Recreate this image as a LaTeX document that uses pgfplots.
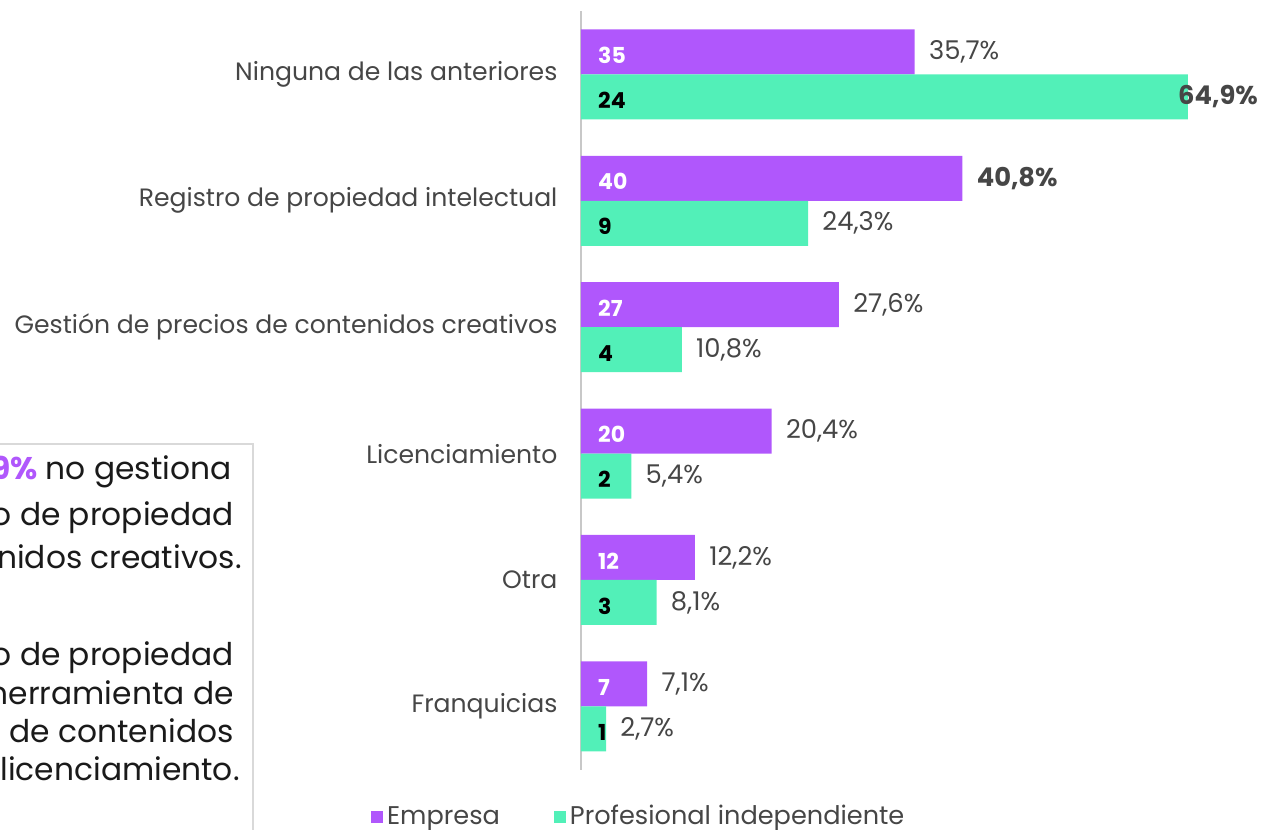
\documentclass[border=0pt]{standalone}
\usepackage{fontspec}
\setmainfont{Poppins}
\usepackage{pgfplots}
\usepackage{pgfplotstable}
\pgfplotsset{compat=1.18}
\definecolor{emp}{RGB}{176,87,252}
\definecolor{pro}{RGB}{82,240,184}
\definecolor{txt}{RGB}{70,70,70}
\definecolor{boxc}{RGB}{217,217,217}
\definecolor{axc}{RGB}{200,200,200}

\pgfplotstableread{
y  p1   c1 l1                 p2   c2 l2                 d2
5  35.7 35 35,7\%             64.9 24 \textbf{64,9\%}    -5
4  40.8 40 \textbf{40,8\%}    24.3 9  24,3\%             7
3  27.6 27 27,6\%             10.8 4  10,8\%             7
2  20.4 20 20,4\%             5.4  2  5,4\%              7
1  12.2 12 12,2\%             8.1  3  8,1\%              7
0  7.1  7  7,1\%              2.7  1  2,7\%              7
}\data

\begin{document}
\begin{tikzpicture}[x=0.5pt,y=0.5pt]
% text box
\draw[boxc, line width=1pt] (-600,-60) rectangle (253,385);
\begin{scope}[every node/.style={inner sep=0pt, font=\fontsize{15.65}{19}\selectfont, text={rgb,255:red,26;green,26;blue,26}}]
\node[anchor=base east] at (232,349) {El {\color{emp}\textbf{64,9\%}} no gestiona};
\node[anchor=base east] at (234,303) {ningún tipo de propiedad};
\node[anchor=base east] at (242,260) {intelectual de sus contenidos creativos.};
\node[anchor=base east] at (234,163) {El registro de propiedad};
\node[anchor=base east] at (234,125) {intelectual es la principal herramienta de};
\node[anchor=base east] at (234,87) {gestión, seguida de la gestión de precios de contenidos};
\node[anchor=base east] at (240,49) {creativos y el licenciamiento.};
\end{scope}

\begin{axis}[
  at={(621,47)}, anchor=south west,
  scale only axis, width=303.5pt, height=379.2pt,
  xmin=0, xmax=64.9, ymin=-0.5, ymax=5.5,
  clip=false,
  axis x line=none,
  axis y line*=left,
  y axis line style={axc, line width=1pt, -},
  xtick=\empty,
  ytick={0,1,2,3,4,5},
  yticklabels={Franquicias, Otra, Licenciamiento, Gestión de precios de contenidos creativos, Registro de propiedad intelectual, Ninguna de las anteriores},
  major tick length=0pt,
  ytick style={draw=none},
  yticklabel style={font=\fontsize{12.55}{15}\selectfont, text=txt, inner sep=0pt, xshift=-11.5pt},
  legend style={at={(0.097,-0.062)}, anchor=center, draw=none, fill=none,
    legend columns=2, font=\fontsize{12.8}{15}\selectfont, text=txt,
    /tikz/every even column/.append style={column sep=25pt},
    inner sep=0pt},
  legend image code/.code={\fill[#1] (0pt,-3pt) rectangle (6pt,3pt);},
  nodes near coords style={inner sep=0pt},
]
\addplot[xbar, bar width=0.356, bar shift=0.178, fill=emp, draw=none,
  nodes near coords, point meta=explicit symbolic,
  every node near coord/.append style={anchor=west, xshift=7pt, yshift=11.25pt, font=\fontsize{12.9}{14}\selectfont, text=txt}]
  table[x=p1, y=y, meta=l1] {\data};
\addlegendentry{Empresa}
\addplot[xbar, bar width=0.356, bar shift=-0.178, fill=pro, draw=none,
  nodes near coords, point meta=explicit symbolic,
  visualization depends on={\thisrow{d2} \as \dx},
  every node near coord/.append style={anchor=west, xshift=\dx pt, yshift=-11.25pt, font=\fontsize{12.9}{14}\selectfont, text=txt}]
  table[x=p2, y=y, meta=l2] {\data};
\addlegendentry{Profesional independiente}
% count labels inside bars
\addplot[xbar, bar width=0.356, bar shift=0.178, fill=none, draw=none, forget plot,
  nodes near coords, point meta=explicit symbolic,
  every node near coord/.append style={anchor=west, xshift=8.5pt, yshift=9.5pt, font=\fontsize{11}{13}\selectfont\bfseries, text=white}]
  table[x expr=0, y=y, meta=c1] {\data};
\addplot[xbar, bar width=0.356, bar shift=-0.178, fill=none, draw=none, forget plot,
  nodes near coords, point meta=explicit symbolic,
  every node near coord/.append style={anchor=west, xshift=8.5pt, yshift=-13pt, font=\fontsize{11}{13}\selectfont\bfseries, text=black}]
  table[x expr=0, y=y, meta=c2] {\data};
\end{axis}
\pgfresetboundingbox
\path[use as bounding box] (0,0) rectangle (1261,829);
\end{tikzpicture}
\end{document}
